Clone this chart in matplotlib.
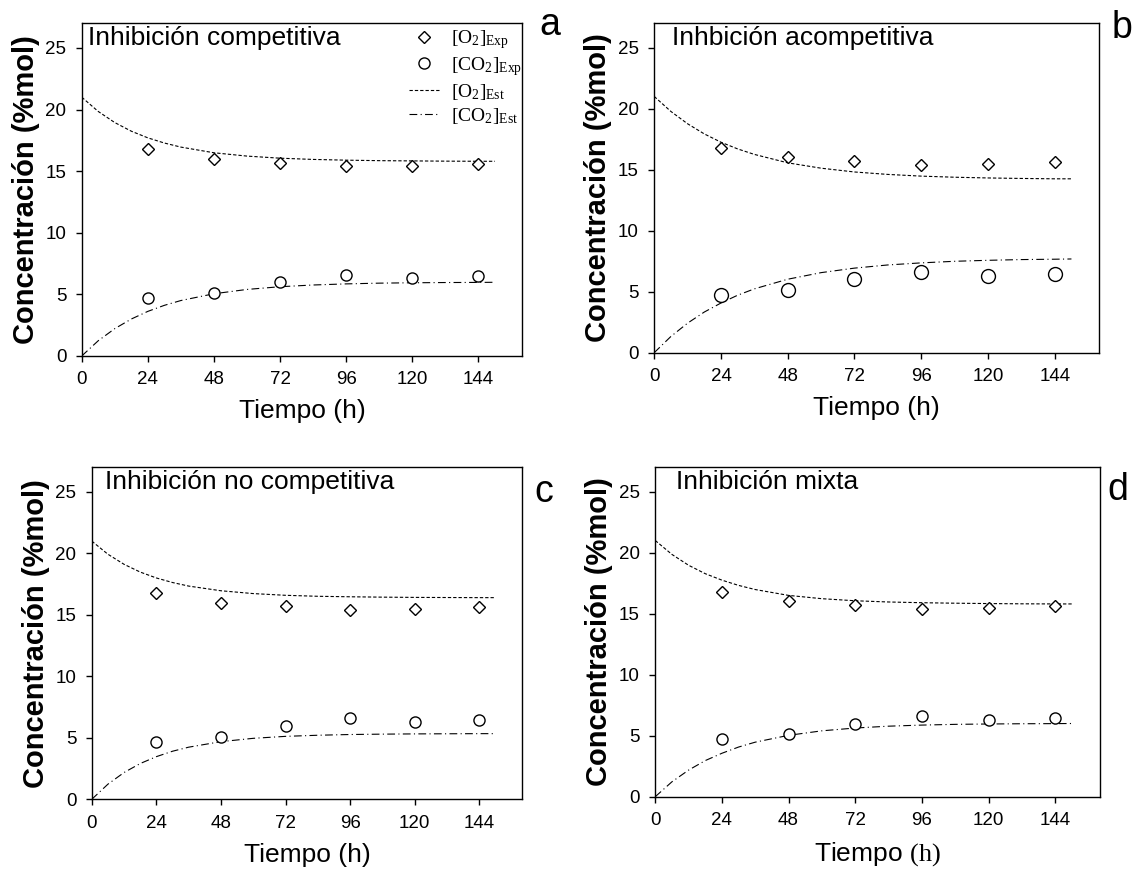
import matplotlib
matplotlib.use('Agg')
import matplotlib.pyplot as plt

plt.rcParams['font.family'] = ['Liberation Sans', 'DejaVu Sans']
plt.rcParams['mathtext.fontset'] = 'custom'
plt.rcParams['mathtext.rm'] = 'Liberation Serif'
plt.rcParams['mathtext.it'] = 'Liberation Serif:italic'

# experimental points (same in all panels)
t_exp = [24, 48, 72, 96, 120, 144]
o2_exp = [16.8, 16.0, 15.7, 15.4, 15.45, 15.6]
co2_exp = [4.7, 5.1, 6.0, 6.6, 6.3, 6.45]

# model curves
t_mod = [0, 6, 12, 18, 24, 30, 36, 48, 60, 72, 84, 96, 108, 120, 132, 144, 150]

o2_a = [21.0, 19.84, 18.94, 18.24, 17.70, 17.28, 16.95, 16.49, 16.22, 16.05, 15.95, 15.89, 15.85, 15.83, 15.81, 15.80, 15.80]
co2_a = [0.0, 1.24, 2.22, 3.00, 3.62, 4.11, 4.50, 5.05, 5.40, 5.62, 5.76, 5.85, 5.91, 5.94, 5.96, 5.97, 5.98]

o2_b = [21.0, 19.77, 18.76, 17.93, 17.25, 16.70, 16.25, 15.56, 15.12, 14.81, 14.61, 14.47, 14.38, 14.32, 14.28, 14.25, 14.25]
co2_b = [0.0, 1.33, 2.42, 3.33, 4.07, 4.71, 5.23, 6.02, 6.56, 6.93, 7.19, 7.36, 7.49, 7.57, 7.63, 7.66, 7.68]

o2_c = [21.0, 19.93, 19.11, 18.48, 18.00, 17.63, 17.34, 16.96, 16.73, 16.59, 16.51, 16.47, 16.44, 16.42, 16.41, 16.40, 16.40]
co2_c = [0.0, 1.23, 2.18, 2.91, 3.47, 3.91, 4.24, 4.69, 4.96, 5.12, 5.21, 5.27, 5.30, 5.32, 5.33, 5.34, 5.34]

o2_d = [21.0, 19.86, 18.97, 18.28, 17.75, 17.32, 16.98, 16.50, 16.23, 16.06, 15.96, 15.90, 15.86, 15.83, 15.81, 15.80, 15.80]
co2_d = [0.0, 1.22, 2.18, 2.96, 3.56, 4.07, 4.47, 5.03, 5.40, 5.63, 5.78, 5.87, 5.93, 5.96, 5.98, 5.99, 6.00]

titles = ['Inhibición competitiva', 'Inhbición acompetitiva',
          'Inhibición no competitiva', 'Inhibición mixta']
letters = ['a', 'b', 'c', 'd']

fig = plt.figure(figsize=(11.37, 8.71), dpi=100)

rects = [[0.0719, 0.5913, 0.3876, 0.3820],
         [0.5754, 0.5951, 0.3914, 0.3782],
         [0.0807, 0.0823, 0.3788, 0.3812],
         [0.5763, 0.0853, 0.3908, 0.3782]]
o2_models = [o2_a, o2_b, o2_c, o2_d]
co2_models = [co2_a, co2_b, co2_c, co2_d]
circle_size = [8, 10, 8, 8]
title_x = [0.015, 0.041, 0.030, 0.047]
# letter positions in pixels (x centre, baseline)
letter_px = [(550, 35), (1122, 38), (544, 502), (1118, 500)]

for i in range(4):
    ax = fig.add_axes(rects[i])
    ax.plot(t_exp, o2_exp, linestyle='none', marker='D', ms=6.6, mfc='white',
            mec='black', mew=1, label=r'$\mathrm{[O_2]_{Exp}}$', zorder=3)
    ax.plot(t_exp, co2_exp, linestyle='none', marker='o', ms=circle_size[i], mfc='white',
            mec='black', mew=1, label=r'$\mathrm{[CO_2]_{Exp}}$', zorder=3)
    ax.plot(t_mod, o2_models[i], color='black', lw=0.8, dashes=(3, 1.8),
            label=r'$\mathrm{[O_2]_{Est}}$')
    ax.plot(t_mod, co2_models[i], color='black', lw=0.8, dashes=(7, 3, 1, 3),
            label=r'$\mathrm{[CO_2]_{Est}}$')

    ax.set_xlim(0, 160)
    ax.set_ylim(0, 27)
    ax.set_xticks([0, 24, 48, 72, 96, 120, 144])
    ax.set_yticks([0, 5, 10, 15, 20, 25])
    ax.tick_params(direction='out', length=4, width=1, labelsize=13.5, pad=7,
                   top=False, right=False)
    for s in ax.spines.values():
        s.set_linewidth(1)

    ax.set_ylabel('Concentración (%mol)', fontsize=21, fontweight='bold', labelpad=4)
    if i == 3:
        ax.set_xlabel(r'Tiempo $\mathrm{(h)}$', fontsize=19, labelpad=8)
    else:
        ax.set_xlabel('Tiempo (h)', fontsize=19, labelpad=8)

    ax.text(title_x[i], 0.993, titles[i], transform=ax.transAxes,
            ha='left', va='top', fontsize=19)
    fig.text(letter_px[i][0] / 1137, 1 - letter_px[i][1] / 871, letters[i],
             fontsize=27, ha='center', va='baseline')

    if i == 0:
        ax.legend(loc='upper right', bbox_to_anchor=(1.0, 0.985), frameon=False,
                  fontsize=14, handlelength=1.6, handletextpad=0.6, labelspacing=0.2,
                  borderaxespad=0, borderpad=0)

plt.savefig('out.png', dpi=100)
